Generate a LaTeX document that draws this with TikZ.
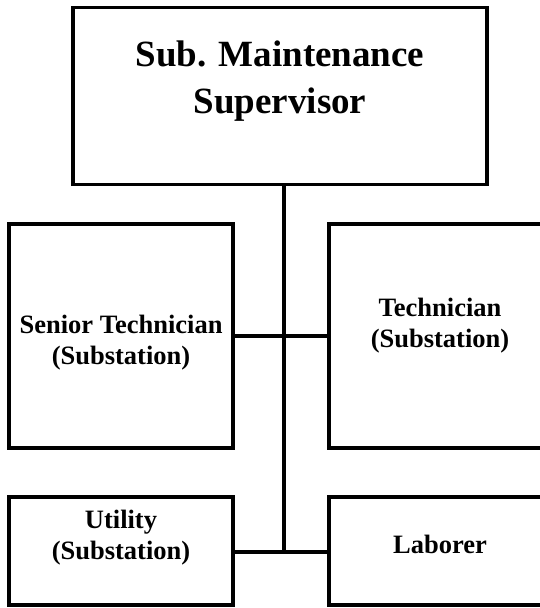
\documentclass[tikz,border=0pt]{standalone}
\usepackage{fontspec}
\setmainfont{Liberation Serif}
\tikzset{
    orgbox/.style={rectangle, draw, line width=3.5pt, inner sep=0pt}
}
\tikzset{
    every label/.style={align=center, inner sep=0pt,
    	font=\bfseries\fontsize{26.5}{31}\selectfont}
}
\tikzset{
    link/.style={line width=3.5pt}
}

\begin{document}
\begin{tikzpicture}[x=1pt, y=-1pt]
	\useasboundingbox (0,0) rectangle (540,608);
	\node (sup) [orgbox, minimum width=414pt, minimum height=177pt, label={[yshift=14.5pt, font=\bfseries\fontsize{37}{47}\selectfont]center:{Sub. Maintenance\\Supervisor}}] at (280,96) {};
	\node (senior) [orgbox, minimum width=224pt, minimum height=224pt, label={[yshift=-7pt]center:{Senior Technician\\(Substation)}}] at (121,336) {};
	\node (tech) [orgbox, minimum width=222pt, minimum height=224pt, label={[yshift=10pt]center:{Technician\\(Substation)}}] at (440,336) {};
	\node (utility) [orgbox, minimum width=224pt, minimum height=108pt, label={[yshift=13.5pt]center:{Utility\\(Substation)}}] at (121,551) {};
	\node (laborer) [orgbox, minimum width=222pt, minimum height=108pt, label={[yshift=7pt]center:{Laborer}}] at (440,551) {};
	\coordinate (joint) at (284,552);

	\draw[link] (senior) -- (tech);
	\draw[link] (utility.east |- joint) -- (laborer.west |- joint);
	\draw[link] (sup.south -| joint) -- (joint);
\end{tikzpicture}
\end{document}
